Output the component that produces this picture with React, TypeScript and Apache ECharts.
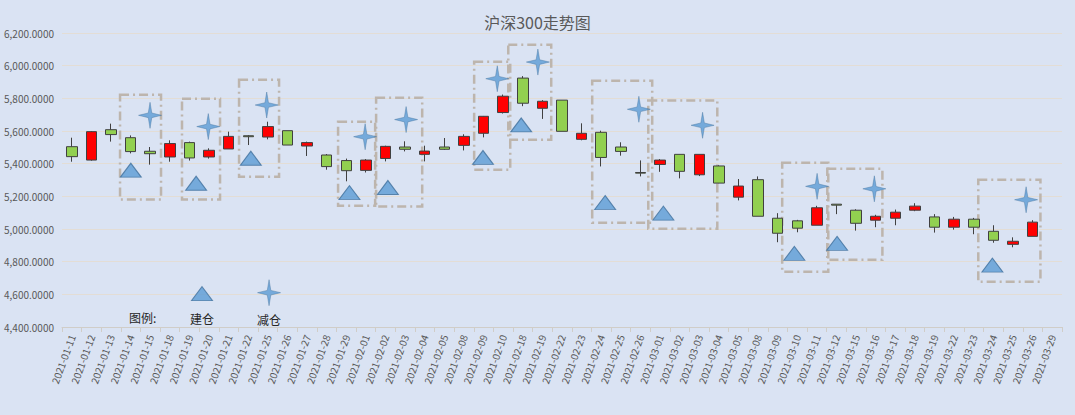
import { useEffect, useRef } from 'react';
import * as echarts from 'echarts';

const dates = [
  '2021-01-11', '2021-01-12', '2021-01-13', '2021-01-14', '2021-01-15', '2021-01-18', '2021-01-19',
  '2021-01-20', '2021-01-21', '2021-01-22', '2021-01-25', '2021-01-26', '2021-01-27', '2021-01-28',
  '2021-01-29', '2021-02-01', '2021-02-02', '2021-02-03', '2021-02-04', '2021-02-05', '2021-02-08',
  '2021-02-09', '2021-02-10', '2021-02-18', '2021-02-19', '2021-02-22', '2021-02-23', '2021-02-24',
  '2021-02-25', '2021-02-26', '2021-03-01', '2021-03-02', '2021-03-03', '2021-03-04', '2021-03-05',
  '2021-03-08', '2021-03-09', '2021-03-10', '2021-03-11', '2021-03-12', '2021-03-15', '2021-03-16',
  '2021-03-17', '2021-03-18', '2021-03-19', '2021-03-22', '2021-03-23', '2021-03-24', '2021-03-25',
  '2021-03-26', '2021-03-29',
];

// open / close / low / high (红 = 收>开, 绿 = 收<开)
const opens = [
  5504, 5422, 5608, 5559, 5476, 5441, 5529, 5441, 5490, 5571, 5563, 5602, 5508, 5453, 5419,
  5359, 5432, 5502, 5457, 5502, 5512, 5586, 5713, 5924, 5739, 5789, 5549, 5592, 5502, 5346,
  5395, 5457, 5332, 5386, 5195, 5302, 5066, 5050, 5023, 5152, 5115, 5054, 5066, 5115, 5074,
  5011, 5060, 4986, 4906, 4955, null,
];
const closes = [
  5443, 5596, 5578, 5474, 5461, 5523, 5435, 5482, 5567, 5565, 5627, 5514, 5529, 5382, 5357,
  5422, 5506, 5488, 5477, 5488, 5567, 5690, 5813, 5770, 5782, 5598, 5586, 5438, 5475, 5342,
  5422, 5353, 5457, 5281, 5263, 5078, 4974, 5005, 5130, 5146, 5035, 5078, 5103, 5140, 5011,
  5060, 5011, 4931, 4925, 5042, null,
];
const lows = [
  5412, 5418, 5535, 5463, 5394, 5412, 5419, 5431, 5490, 5514, 5549, 5514, 5447, 5363, 5292,
  5346, 5414, 5475, 5414, 5484, 5481, 5561, 5707, 5752, 5674, 5598, 5543, 5383, 5449, 5322,
  5350, 5310, 5324, 5280, 5175, 5078, 4919, 4980, 5023, 5091, 4990, 5011, 5023, 5109, 4978,
  4996, 4968, 4916, 4888, 4955, null,
];
const highs = [
  5559, 5600, 5645, 5573, 5502, 5543, 5535, 5494, 5596, 5575, 5657, 5602, 5535, 5459, 5431,
  5428, 5510, 5537, 5510, 5557, 5580, 5692, 5823, 5936, 5789, 5789, 5647, 5602, 5531, 5420,
  5428, 5457, 5457, 5390, 5306, 5322, 5097, 5056, 5142, 5152, 5121, 5087, 5119, 5158, 5091,
  5074, 5068, 5023, 4949, 5054, null,
];

// 建仓 (triangle) and 减仓 (star) markers, x in category units
const buyX = [3.51, 6.84, 9.63, 14.66, 16.62, 21.47, 23.42, 27.7, 30.67, 37.35, 39.53, 47.45];
const buyY = [5360, 5280, 5433, 5223, 5254, 5438, 5637, 5162, 5097, 4851, 4912, 4779];
const sellX = [4.49, 7.46, 10.44, 15.46, 17.55, 22.2, 24.27, 29.42, 32.67, 38.51, 41.43, 49.17];
const sellY = [5696, 5627, 5759, 5565, 5670, 5920, 6022, 5733, 5635, 5261, 5246, 5179];

// dash-dot boxes: [x0, x1, yTop, yBottom]
const boxes = [
  [2.96, 5.05, 5822, 5180],
  [6.12, 8.06, 5798, 5180],
  [9.03, 11.07, 5914, 5320],
  [14.08, 15.97, 5657, 5143],
  [16.02, 18.37, 5804, 5137],
  [21.02, 22.86, 6024, 5363],
  [22.76, 24.95, 6128, 5547],
  [27.04, 30.1, 5908, 5039],
  [29.9, 33.42, 5786, 5002],
  [36.73, 39.08, 5406, 4739],
  [39.03, 41.84, 5369, 4812],
  [46.73, 49.9, 5302, 4677],
];

const legendBuy = [7.14, 4604];
const legendSell = [10.56, 4610];

const STAR = 'path://M0,-14 L2,-2.5 L13,0 L2,2.5 L0,14 L-2,2.5 L-13,0 L-2,-2.5 Z';
const BLUE = '#5b9bd5';
const BLUE_EDGE = '#41719c';

export default function App() {
  const ref = useRef<HTMLDivElement | null>(null);

  useEffect(() => {
    document.body.style.margin = '0';
    const el = ref.current;
    if (!el) return;
    const chart = echarts.init(el, undefined, { renderer: 'svg' });

    const kData = dates.map((_, i) =>
      opens[i] == null ? '-' : [opens[i], closes[i], lows[i], highs[i]],
    );
    const font = '"Microsoft YaHei", "Noto Sans CJK SC", sans-serif';

    chart.setOption({
      animation: false,
      backgroundColor: '#dae3f3',
      textStyle: { fontFamily: font },
      title: {
        text: '沪深300走势图',
        left: 'center',
        top: 9,
        textStyle: { fontSize: 16, fontWeight: 'normal', color: '#595959' },
      },
      grid: { left: 62, right: 13, top: 33, bottom: 88 },
      xAxis: [
        {
          type: 'category',
          data: dates,
          boundaryGap: true,
          axisLine: { lineStyle: { color: '#d0cdc8' } },
          axisTick: { show: true, alignWithLabel: false, lineStyle: { color: '#d0cdc8' } },
          axisLabel: { rotate: 70, fontSize: 10, color: '#595959', interval: 0 },
          splitLine: { show: false },
        },
        { type: 'value', min: 0, max: 51, show: false },
      ],
      yAxis: {
        type: 'value',
        min: 4400,
        max: 6200,
        interval: 200,
        axisLine: { show: false },
        axisTick: { show: false },
        axisLabel: {
          fontSize: 10,
          color: '#595959',
          formatter: (v: number) =>
            v.toLocaleString('en-US', { minimumFractionDigits: 4, maximumFractionDigits: 4 }),
        },
        splitLine: { lineStyle: { color: '#e3ddd5' } },
      },
      series: [
        {
          type: 'candlestick',
          data: kData,
          barWidth: 11,
          itemStyle: {
            color: '#ff0000',
            color0: '#92d050',
            borderColor: '#404040',
            borderColor0: '#404040',
            borderWidth: 1,
          },
        },
        {
          type: 'scatter',
          xAxisIndex: 1,
          data: [],
          silent: true,
          markArea: {
            silent: true,
            itemStyle: {
              color: 'rgba(0,0,0,0)',
              borderColor: '#bdb5ad',
              borderWidth: 2.5,
              borderType: [9, 4, 2, 4],
            },
            data: boxes.map((b) => [
              { xAxis: b[0], yAxis: b[2] },
              { xAxis: b[1], yAxis: b[3] },
            ]),
          },
        },
        {
          type: 'scatter',
          xAxisIndex: 1,
          symbol: 'triangle',
          symbolSize: [21, 14],
          itemStyle: { color: BLUE, borderColor: BLUE_EDGE, borderWidth: 1 },
          data: [...buyX.map((x, i) => [x, buyY[i]]), legendBuy],
        },
        {
          type: 'scatter',
          xAxisIndex: 1,
          symbol: STAR,
          symbolSize: [23, 26],
          itemStyle: { color: BLUE, borderColor: BLUE_EDGE, borderWidth: 0.5 },
          data: [...sellX.map((x, i) => [x, sellY[i]]), legendSell],
        },
      ],
      graphic: [
        { type: 'text', left: 129, top: 311, style: { text: '图例:', fontSize: 12, fill: '#262626', fontFamily: font } },
        { type: 'text', left: 190, top: 312, style: { text: '建仓', fontSize: 12, fill: '#262626', fontFamily: font } },
        { type: 'text', left: 257, top: 313, style: { text: '减仓', fontSize: 12, fill: '#262626', fontFamily: font } },
      ],
    });

    return () => chart.dispose();
  }, []);

  return <div ref={ref} style={{ width: 1075, height: 415 }} />;
}
